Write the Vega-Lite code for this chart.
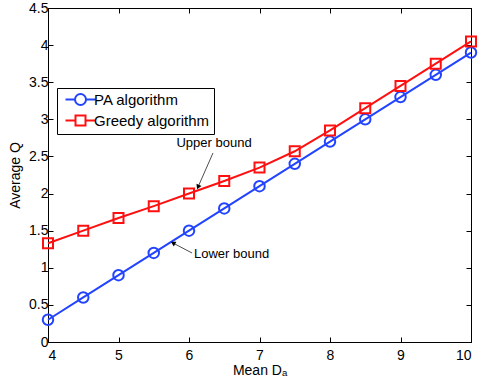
{
  "$schema": "https://vega.github.io/schema/vega-lite/v6.json",
  "width": 423,
  "height": 334,
  "autosize": "none",
  "padding": {"left": 48, "top": 8, "right": 13, "bottom": 45},
  "background": "white",
  "config": {
    "font": "Liberation Sans",
    "view": {"stroke": "black", "strokeWidth": 1},
    "axis": {"grid": false, "domainColor": "black", "tickColor": "black", "labelColor": "black", "titleColor": "black", "labelFontSize": 14, "titleFontSize": 14, "titleFontWeight": "normal", "tickSize": -5, "labelFont": "Liberation Sans", "titleFont": "Liberation Sans"}
  },
  "resolve": {"axis": {"x": "independent", "y": "independent"}},
  "datasets": {
    "curves": [
      {"x": 4, "q": 0.3, "series": "PA algorithm"},
      {"x": 4.5, "q": 0.6, "series": "PA algorithm"},
      {"x": 5, "q": 0.9, "series": "PA algorithm"},
      {"x": 5.5, "q": 1.2, "series": "PA algorithm"},
      {"x": 6, "q": 1.5, "series": "PA algorithm"},
      {"x": 6.5, "q": 1.8, "series": "PA algorithm"},
      {"x": 7, "q": 2.1, "series": "PA algorithm"},
      {"x": 7.5, "q": 2.4, "series": "PA algorithm"},
      {"x": 8, "q": 2.7, "series": "PA algorithm"},
      {"x": 8.5, "q": 3.0, "series": "PA algorithm"},
      {"x": 9, "q": 3.3, "series": "PA algorithm"},
      {"x": 9.5, "q": 3.6, "series": "PA algorithm"},
      {"x": 10, "q": 3.9, "series": "PA algorithm"},
      {"x": 4, "q": 1.33, "series": "Greedy algorithm"},
      {"x": 4.5, "q": 1.5, "series": "Greedy algorithm"},
      {"x": 5, "q": 1.67, "series": "Greedy algorithm"},
      {"x": 5.5, "q": 1.83, "series": "Greedy algorithm"},
      {"x": 6, "q": 2.0, "series": "Greedy algorithm"},
      {"x": 6.5, "q": 2.17, "series": "Greedy algorithm"},
      {"x": 7, "q": 2.35, "series": "Greedy algorithm"},
      {"x": 7.5, "q": 2.57, "series": "Greedy algorithm"},
      {"x": 8, "q": 2.85, "series": "Greedy algorithm"},
      {"x": 8.5, "q": 3.15, "series": "Greedy algorithm"},
      {"x": 9, "q": 3.45, "series": "Greedy algorithm"},
      {"x": 9.5, "q": 3.75, "series": "Greedy algorithm"},
      {"x": 10, "q": 4.05, "series": "Greedy algorithm"}
    ],
    "arrows": [
      {"label": "Upper bound", "x": 6.34, "y": 2.546, "x2": 6.128, "y2": 2.088, "tx": 6.355, "ty": 2.68},
      {"label": "Lower bound", "x": 6.043, "y": 1.199, "x2": 5.773, "y2": 1.334, "tx": 6.071, "ty": 1.186}
    ]
  },
  "layer": [
    {
      "data": {"name": "curves"},
      "mark": {"type": "line", "strokeWidth": 2},
      "encoding": {
        "x": {"field": "x", "type": "quantitative", "scale": {"domain": [4, 10], "nice": false}, "axis": {"title": "Mean Dₐ", "values": [4, 5, 6, 7, 8, 9, 10], "labelPadding": 11, "titlePadding": 1}},
        "y": {"field": "q", "type": "quantitative", "scale": {"domain": [0, 4.5], "nice": false}, "axis": {"title": "Average Q", "values": [0, 0.5, 1, 1.5, 2, 2.5, 3, 3.5, 4, 4.5], "format": "~g", "labelPadding": 5, "titlePadding": 6}},
        "color": {"field": "series", "type": "nominal", "scale": {"domain": ["PA algorithm", "Greedy algorithm"], "range": ["#2244ff", "#ff1010"]},
          "legend": {"title": null, "orient": "none", "legendX": 9, "legendY": 80, "fillColor": "white", "strokeColor": "black", "padding": 4, "labelFontSize": 15, "labelColor": "black", "symbolSize": 100, "symbolStrokeWidth": 2, "symbolOffset": 12, "labelOffset": 6, "rowPadding": 2,
            "encode": {"symbols": {"update": {
              "shape": {"signal": "datum.value === 'PA algorithm' ? 'M-3,0H-1.1M1.1,0H3M-1.1,0A1.1,1.1 0 1,1 1.1,0A1.1,1.1 0 1,1 -1.1,0' : 'M-3,0H-1M1,0H3M-1,-1H1V1H-1Z'"},
              "fill": {"value": "transparent"},
              "strokeWidth": {"value": 2}
            }}}}}
      }
    },
    {
      "data": {"name": "curves"},
      "transform": [{"filter": "datum.series == 'PA algorithm'"}],
      "mark": {"type": "point", "shape": "circle", "filled": false, "strokeWidth": 2, "opacity": 1, "size": 110},
      "encoding": {
        "x": {"field": "x", "type": "quantitative", "axis": null},
        "y": {"field": "q", "type": "quantitative", "axis": null},
        "color": {"field": "series", "type": "nominal", "legend": null}
      }
    },
    {
      "data": {"name": "curves"},
      "transform": [{"filter": "datum.series == 'Greedy algorithm'"}],
      "mark": {"type": "point", "shape": "square", "filled": false, "strokeWidth": 2, "opacity": 1, "size": 100},
      "encoding": {
        "x": {"field": "x", "type": "quantitative", "axis": null},
        "y": {"field": "q", "type": "quantitative", "axis": null},
        "color": {"field": "series", "type": "nominal", "legend": null}
      }
    },
    {
      "data": {"name": "arrows"},
      "mark": {"type": "rule", "color": "black", "strokeWidth": 0.7},
      "encoding": {
        "x": {"field": "x", "type": "quantitative", "axis": null},
        "y": {"field": "y", "type": "quantitative", "axis": null},
        "x2": {"field": "x2"},
        "y2": {"field": "y2"}
      }
    },
    {
      "data": {"name": "arrows"},
      "transform": [{"filter": "datum.label == 'Upper bound'"}],
      "mark": {"type": "point", "shape": "triangle-up", "filled": true, "color": "black", "size": 30, "angle": 204, "opacity": 1},
      "encoding": {
        "x": {"field": "x2", "type": "quantitative", "axis": null},
        "y": {"field": "y2", "type": "quantitative", "axis": null}
      }
    },
    {
      "data": {"name": "arrows"},
      "transform": [{"filter": "datum.label == 'Lower bound'"}],
      "mark": {"type": "point", "shape": "triangle-up", "filled": true, "color": "black", "size": 30, "angle": 298, "opacity": 1},
      "encoding": {
        "x": {"field": "x2", "type": "quantitative", "axis": null},
        "y": {"field": "y2", "type": "quantitative", "axis": null}
      }
    },
    {
      "data": {"name": "arrows"},
      "transform": [{"filter": "datum.label == 'Upper bound'"}],
      "mark": {"type": "text", "fontSize": 13, "color": "black", "align": "center", "baseline": "middle"},
      "encoding": {
        "x": {"field": "tx", "type": "quantitative", "axis": null},
        "y": {"field": "ty", "type": "quantitative", "axis": null},
        "text": {"field": "label"}
      }
    },
    {
      "data": {"name": "arrows"},
      "transform": [{"filter": "datum.label == 'Lower bound'"}],
      "mark": {"type": "text", "fontSize": 13, "color": "black", "align": "left", "baseline": "middle"},
      "encoding": {
        "x": {"field": "tx", "type": "quantitative", "axis": null},
        "y": {"field": "ty", "type": "quantitative", "axis": null},
        "text": {"field": "label"}
      }
    },
    {
      "data": {"values": [{"x": 4, "q": 0}]},
      "mark": {"type": "point", "opacity": 0},
      "encoding": {
        "x": {"field": "x", "type": "quantitative", "axis": {"orient": "top", "labels": false, "title": null, "values": [4, 5, 6, 7, 8, 9, 10]}},
        "y": {"field": "q", "type": "quantitative", "axis": {"orient": "right", "labels": false, "title": null, "values": [0, 0.5, 1, 1.5, 2, 2.5, 3, 3.5, 4, 4.5]}}
      }
    }
  ]
}
